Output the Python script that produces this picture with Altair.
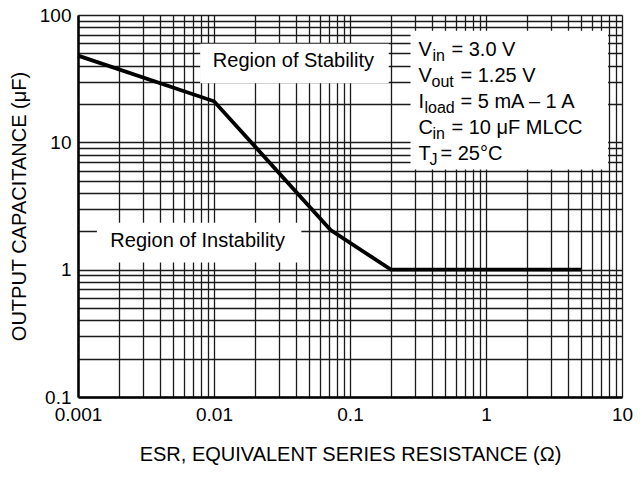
import json
import altair as alt
import pandas as pd

FONT = "Liberation Sans"

# ---- data ----
esr = [0.001, 0.01, 0.072, 0.2, 5.0]          # ESR (ohm)
cap = [48.0, 21.0, 2.05, 1.0, 1.0]            # output capacitance (uF)

x_ticks = [0.001, 0.01, 0.1, 1, 10]
y_ticks = [0.1, 1, 10, 100]
x_grid = [round(m * 10.0 ** e, 6) for e in range(-3, 1) for m in range(1, 10)] + [10]
y_grid = [round(m * 10.0 ** e, 6) for e in range(-1, 2) for m in range(1, 10)] + [100]

# annotation boxes (data coordinates)
box_x1 = [0.00791, 0.001377, 0.2786]
box_x2 = [0.1928, 0.04388, 7.9]
box_y1 = [59.5, 2.333, 75.1]
box_y2 = [29.1, 1.14, 6.13]

region_text = ["Region of Stability", "Region of Instability"]
region_x = [0.03837, 0.00758]
region_y = [38.7, 1.518]

cond_x = 0.319
cond_y = [48.0, 29.9, 18.6, 11.57, 7.2]
cond_main = ["V", "V", "I", "C", "T"]
cond_sub = ["in", "out", "load", "in", "J"]
cond_rest = ["= 3.0 V", "= 1.25 V", "= 5 mA \u2013 1 A", "= 10 \u03bcF MLCC", "= 25\u00b0C"]
sub_dx = [14, 13, 6, 14, 11]
rest_dx = [33, 42, 42, 33, 22]

# ---- chart ----
line_df = pd.DataFrame({"esr": esr, "cap": cap})
box_df = pd.DataFrame({"x1": box_x1, "x2": box_x2, "y1": box_y1, "y2": box_y2})
reg_df = pd.DataFrame({"x": region_x, "y": region_y, "t": region_text})

x_scale = alt.Scale(type="log", domain=[0.001, 10], nice=False)
y_scale = alt.Scale(type="log", domain=[0.1, 100], nice=False)

x_expr = f"indexof({json.dumps(x_ticks)}, datum.value) >= 0 ? datum.label : ''"
y_expr = f"indexof({json.dumps(y_ticks)}, datum.value) >= 0 ? datum.label : ''"

x_axis = alt.Axis(values=x_grid, labelExpr=x_expr, format="~g",
                  title="ESR, EQUIVALENT SERIES RESISTANCE (\u03a9)",
                  labelPadding=8, titlePadding=20, labelFlush=False)
y_axis = alt.Axis(values=y_grid, labelExpr=y_expr, format="~g",
                  title="OUTPUT CAPACITANCE (\u03bcF)",
                  labelPadding=7, titlePadding=10, labelFlush=False)

line = alt.Chart(line_df).mark_line(color="black", strokeWidth=3.8).encode(
    x=alt.X("esr:Q", scale=x_scale, axis=x_axis),
    y=alt.Y("cap:Q", scale=y_scale, axis=y_axis),
)

boxes = alt.Chart(box_df).mark_rect(color="white", opacity=1).encode(
    x=alt.X("x1:Q", scale=x_scale), x2="x2:Q",
    y=alt.Y("y1:Q", scale=y_scale), y2="y2:Q",
)

regions = alt.Chart(reg_df).mark_text(
    font=FONT, fontSize=20, color="black", align="center", baseline="alphabetic"
).encode(x=alt.X("x:Q", scale=x_scale), y=alt.Y("y:Q", scale=y_scale), text="t:N")

layers = [line, boxes, regions]
for i in range(len(cond_y)):
    row = pd.DataFrame({"x": [cond_x], "y": [cond_y[i]]})
    pieces = [
        (cond_main[i], 0, 0, 20),
        (cond_sub[i], sub_dx[i], 5, 16),
        (cond_rest[i], rest_dx[i], 0, 20),
    ]
    for txt, dx, dy, size in pieces:
        layers.append(
            alt.Chart(row).mark_text(
                text=txt, font=FONT, fontSize=size, color="black",
                align="left", baseline="alphabetic", dx=dx, dy=dy,
            ).encode(x=alt.X("x:Q", scale=x_scale), y=alt.Y("y:Q", scale=y_scale))
        )

chart = alt.layer(*layers).properties(
    width=544, height=382,
    padding={"left": 70, "top": 7, "right": 12, "bottom": 72},
    autosize=alt.AutoSizeParams(type="none"),
    background="white",
).configure_axis(
    grid=True, gridColor="#1a1a1a", gridWidth=1.3, gridOpacity=1,
    ticks=False, domainColor="black", domainWidth=2.5,
    labelFont=FONT, labelFontSize=19, labelColor="black", labelOverlap=False,
    titleFont=FONT, titleFontSize=20, titleFontWeight="normal", titleColor="black",
).configure_view(stroke="transparent")

chart.save("out.html", embed_options={"renderer": "svg", "actions": False})
